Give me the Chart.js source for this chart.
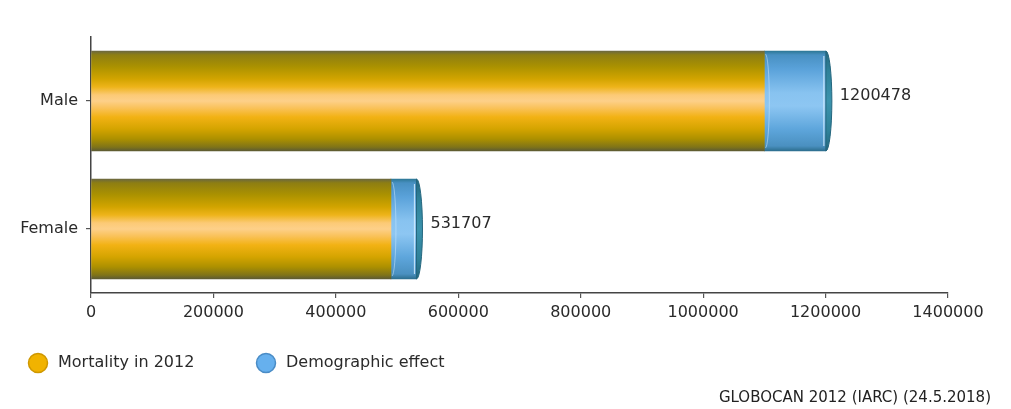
<!DOCTYPE html>
<html>
<head>
<meta charset="utf-8">
<script src="https://cdn.jsdelivr.net/npm/chart.js@4.4.1/dist/chart.umd.min.js"></script>
<style>
  html, body { margin: 0; padding: 0; background: #fff; }
  canvas { display: block; }
</style>
</head>
<body>
<canvas id="chart" width="1011" height="409"></canvas>
<script>
// Data
const categories = ['Male', 'Female'];
const mortality2012 = [1100000, 490000];
const demographicEffect = [100478, 41707];
const xTickValues = [0, 200000, 400000, 600000, 800000, 1000000, 1200000, 1400000];
const seriesNames = ['Mortality in 2012', 'Demographic effect'];
const sourceNote = 'GLOBOCAN 2012 (IARC) (24.5.2018)';

// Styling
const FONT = '"DejaVu Sans", sans-serif';
const TEXT = '#2a2a2a';
const BAR_THICKNESS = 100;

const goldStops = [
  [0.00, '#6c6840'], [0.04, '#8e7e12'], [0.16, '#ac9200'], [0.28, '#d2a400'],
  [0.36, '#eeb41a'], [0.44, '#fcca76'], [0.50, '#fdd089'], [0.57, '#fac25a'],
  [0.66, '#f2b214'], [0.78, '#d4a400'], [0.88, '#ac9000'], [0.96, '#807418'],
  [1.00, '#5c5a34']
];
const blueStops = [
  [0.00, '#2d7896'], [0.04, '#4890c2'], [0.18, '#5aa2da'], [0.42, '#88c3f0'],
  [0.55, '#8dc6f2'], [0.78, '#5ea6dc'], [0.95, '#4a90c0'], [1.00, '#2c6e8e']
];
const capStops = [
  [0.00, '#23677f'], [0.20, '#2f8199'], [0.50, '#3b93ad'], [0.80, '#2f8199'], [1.00, '#23677f']
];
const swatches = [
  { fill: '#f1b300', stroke: '#cf9800' },
  { fill: '#66b0ee', stroke: '#4a8cc6' }
];

function barGradient(context, stops) {
  const chart = context.chart;
  const ys = chart.scales.y;
  if (!ys || !chart.chartArea || context.dataIndex === undefined) {
    return stops[Math.floor(stops.length / 2)][1];
  }
  const yc = ys.getPixelForValue(context.dataIndex);
  const g = chart.ctx.createLinearGradient(0, yc - BAR_THICKNESS / 2, 0, yc + BAR_THICKNESS / 2);
  stops.forEach(([o, c]) => g.addColorStop(o, c));
  return g;
}

// Rounded cylinder end and the seam between the two segments
const cylinderEnds = {
  id: 'cylinderEnds',
  afterDatasetsDraw(chart) {
    const ctx = chart.ctx;
    chart.getDatasetMeta(1).data.forEach((bar) => {
      const { x, y, base, height } = bar.getProps(['x', 'y', 'base', 'height'], true);
      const h = height / 2;
      ctx.save();
      // seam highlight
      ctx.strokeStyle = 'rgba(200,230,252,0.55)';
      ctx.lineWidth = 1;
      ctx.beginPath();
      ctx.ellipse(base + 1, y, 4, h - 3, 0, -Math.PI / 2, Math.PI / 2);
      ctx.stroke();
      // end cap
      const g = ctx.createLinearGradient(0, y - h, 0, y + h);
      capStops.forEach(([o, c]) => g.addColorStop(o, c));
      ctx.fillStyle = g;
      ctx.beginPath();
      ctx.ellipse(x, y, 6, h, 0, -Math.PI / 2, Math.PI / 2);
      ctx.closePath();
      ctx.fill();
      ctx.strokeStyle = '#24667e';
      ctx.lineWidth = 1;
      ctx.stroke();
      // light rim just inside the cap
      ctx.strokeStyle = 'rgba(215,238,255,0.8)';
      ctx.lineWidth = 1.2;
      ctx.beginPath();
      ctx.moveTo(x - 2, y - h + 5);
      ctx.lineTo(x - 2, y + h - 5);
      ctx.stroke();
      ctx.restore();
    });
  }
};

// Total value at the end of each bar
const totalLabels = {
  id: 'totalLabels',
  afterDatasetsDraw(chart) {
    const ctx = chart.ctx;
    ctx.save();
    ctx.font = '16px ' + FONT;
    ctx.fillStyle = TEXT;
    ctx.textAlign = 'left';
    ctx.textBaseline = 'middle';
    chart.getDatasetMeta(1).data.forEach((bar, i) => {
      const total = mortality2012[i] + demographicEffect[i];
      ctx.fillText(String(total), bar.x + 14, bar.y - 5);
    });
    ctx.restore();
  }
};

// Legend row and source note under the axis
const footer = {
  id: 'footer',
  afterDraw(chart) {
    const ctx = chart.ctx;
    const legendY = 363;
    const legendX = [38, 266];
    ctx.save();
    ctx.font = '16px ' + FONT;
    ctx.textBaseline = 'middle';
    ctx.textAlign = 'left';
    chart.data.datasets.forEach((ds, i) => {
      const cx = legendX[i];
      ctx.beginPath();
      ctx.arc(cx, legendY, 9.5, 0, Math.PI * 2);
      ctx.fillStyle = swatches[i].fill;
      ctx.fill();
      ctx.lineWidth = 1.5;
      ctx.strokeStyle = swatches[i].stroke;
      ctx.stroke();
      ctx.fillStyle = TEXT;
      ctx.fillText(ds.label, cx + 20, legendY);
    });
    ctx.font = '15px ' + FONT;
    ctx.textAlign = 'right';
    ctx.fillStyle = '#222';
    ctx.fillText(sourceNote, 991, 398);
    ctx.restore();
  }
};

new Chart(document.getElementById('chart'), {
  type: 'bar',
  data: {
    labels: categories,
    datasets: [
      {
        label: seriesNames[0],
        data: mortality2012,
        backgroundColor: (c) => barGradient(c, goldStops),
        borderWidth: 0,
        barThickness: BAR_THICKNESS
      },
      {
        label: seriesNames[1],
        data: demographicEffect,
        backgroundColor: (c) => barGradient(c, blueStops),
        borderWidth: 0,
        barThickness: BAR_THICKNESS
      }
    ]
  },
  options: {
    indexAxis: 'y',
    responsive: false,
    animation: false,
    layout: { padding: { top: 37, left: 0, right: 63, bottom: 80 } },
    plugins: {
      legend: { display: false },
      tooltip: { enabled: false }
    },
    scales: {
      x: {
        stacked: true,
        min: 0,
        max: 1400000,
        afterBuildTicks: (scale) => { scale.ticks = xTickValues.map(v => ({ value: v })); },
        afterFit: (scale) => { scale.height = 36; },
        ticks: {
          callback: (v) => String(v),
          font: { family: FONT, size: 16 },
          color: TEXT,
          padding: 5,
          maxRotation: 0,
          autoSkip: false
        },
        grid: { drawOnChartArea: false, drawTicks: true, tickLength: 5, color: '#555', lineWidth: 1.2 },
        border: { display: true, color: '#444', width: 1.5 }
      },
      y: {
        stacked: true,
        afterFit: (scale) => { scale.width = 91; },
        ticks: {
          font: { family: FONT, size: 16 },
          color: TEXT,
          padding: 8
        },
        grid: { offset: false, drawOnChartArea: false, drawTicks: true, tickLength: 5, color: '#555', lineWidth: 1.2 },
        border: { display: true, color: '#444', width: 1.5 }
      }
    }
  },
  plugins: [cylinderEnds, totalLabels, footer]
});
</script>
</body>
</html>
